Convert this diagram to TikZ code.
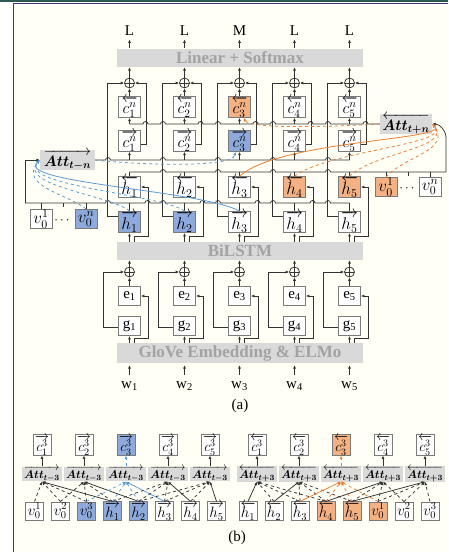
\RequirePackage{fix-cm}
\documentclass[tikz,border=0pt]{standalone}
\usepackage{amsmath}
\usepackage{bm}
\usepackage{fontspec}
\setmainfont{Liberation Serif}
\usetikzlibrary{arrows.meta,calc}

\definecolor{bandgray}{HTML}{D9D9D9}
\definecolor{bandtext}{HTML}{A3A3A3}
\definecolor{blueFill}{HTML}{8EA9DB}
\definecolor{orangeFill}{HTML}{F4B183}
\definecolor{blueLine}{HTML}{5B9BD5}
\definecolor{orangeLine}{HTML}{ED7D31}
\definecolor{paper}{HTML}{FFFFF6}
\definecolor{frameTeal}{HTML}{2E5A55}
\definecolor{frameNavy}{HTML}{3B3A7A}
\definecolor{ink}{HTML}{333333}
\definecolor{edge}{HTML}{7A7A7A}

\newcommand\sz[1]{\fontsize{#1}{#1}\selectfont}

\begin{document}
\begin{tikzpicture}[x=1pt,y=-1pt,
  line/.style={draw=ink,line width=0.75pt},
  arr/.style={line,-{Latex[length=3.4pt,width=3pt]}},
  cell/.style={draw=edge,line width=1pt,fill=white,minimum width=22pt,minimum height=19pt,inner sep=0pt,font=\sz{16}},
  bcell/.style={cell,minimum width=18pt,minimum height=18pt,font=\sz{15}},
  band/.style={fill=bandgray,text=bandtext,inner sep=0pt,minimum width=246pt,font=\bfseries\sz{17}},
  attbox/.style={fill=bandgray,inner sep=0pt,font=\sz{15}},
  battbox/.style={fill=bandgray,inner sep=0pt,minimum width=40pt,minimum height=14pt,font=\sz{11.5}},
  dots/.style={inner sep=0pt,font=\sz{13}},
  sumnode/.style={circle,draw=ink,line width=0.75pt,minimum size=10pt,inner sep=0pt,
    path picture={\draw[ink,line width=0.75pt] (path picture bounding box.north)--(path picture bounding box.south) (path picture bounding box.west)--(path picture bounding box.east);}},
]
\useasboundingbox (0,0) rectangle (448,552);
% page and frame
\fill[white] (0,0) rectangle (448,552);
\fill[paper] (13,3) rectangle (448,552);
\fill[frameTeal] (0,0) rectangle (448,2.4);
\draw[frameNavy,line width=1.3pt] (13.6,552) -- (13.6,3.3) -- (448,3.3);

% ---------------- (a) ----------------
\node[band,minimum height=18pt] (lin) at (240,58) {Linear + Softmax};
\node[band,minimum height=18pt] (bil) at (240,251) {BiLSTM};
\node[band,minimum height=20pt] (glv) at (240,353) {GloVe Embedding \& ELMo};

\node[attbox,minimum width=55pt,minimum height=18pt] (attL) at (67.5,160) {$\overrightarrow{\bm{Att}_{\bm{t-n}}}$};
\node[attbox,minimum width=52pt,minimum height=17pt] (attR) at (406,124) {$\overleftarrow{\bm{Att}_{\bm{t+n}}}$};

\coordinate (bb) at (0,172);
\coordinate (fb) at (0,203);

\foreach \i/\lab/\fcu/\fcd/\fhu/\fhd in {1/L/white/white/white/blueFill,2/L/white/white/white/blueFill,3/M/orangeFill/blueFill/white/white,4/L/white/white/orangeFill/white,5/L/white/white/orangeFill/white}{
  \pgfmathsetmacro\cx{129.5+55*(\i-1)}
  \node[font=\sz{15}] (lab\i) at (\cx,31) {\lab};
  \node[sumnode] (s\i) at (\cx,83) {};
  \node[cell,minimum height=19pt,fill=\fcu] (cu\i) at (\cx,107) {$\overleftarrow{c_{\i}^{n}}$};
  \node[cell,minimum height=18pt,fill=\fcd] (cd\i) at (\cx,141) {$\overrightarrow{c_{\i}^{n}}$};
  \node[cell,minimum height=20pt,fill=\fhu,font=\sz{17}] (hu\i) at (\cx,187) {$\overleftarrow{h_{\i}}$};
  \node[cell,minimum height=21pt,fill=\fhd,font=\sz{17}] (hd\i) at (\cx,222) {$\overrightarrow{h_{\i}}$};
  \node[sumnode] (se\i) at (\cx,272) {};
  \node[cell,font=\sz{15}] (e\i) at (\cx,296) {e\textsubscript{\i}};
  \node[cell,font=\sz{15}] (g\i) at (\cx,326) {g\textsubscript{\i}};
  \node[font=\sz{15}] (w\i) at (\cx,386) {w\textsubscript{\i}};
  % output head
  \draw[arr] ([yshift=1pt]lin.north -| s\i) -- (lab\i.south);
  \draw[arr] (s\i) -- (s\i |- lin.south);
  \draw[arr] (cu\i) -- (s\i);
  \draw[arr] ([yshift=6pt]hd\i.west) -- ++(-10.5,0) |- (s\i.west);
  \draw[arr] ([yshift=-3pt]cd\i.east) -- ++(5,0) |- (s\i.east);
  \draw[arr] (cu\i.south |- attR.west) -- (cu\i.south);
  \draw[arr] (cd\i.south |- attL.east) -- (cd\i.south);
  % BiLSTM states
  \draw[line] (hu\i.north) -- (hu\i.north |- bb);
  \draw[line] (hd\i.north) -- (hd\i.north |- fb);
  \draw[arr] (hd\i.south |- bil.north) -- (hd\i.south);
  \draw[arr] ([xshift=5pt]hd\i.south |- bil.north) -- ++(0,-5) -| ([xshift=7pt]hu\i.east) -- (hu\i.east);
  % embedding highway
  \draw[arr] (se\i) -- (se\i |- bil.south);
  \draw[arr] (e\i) -- (se\i);
  \draw[arr] ([yshift=-1pt]g\i.west) -- ++(-15,0) |- (se\i.west);
  \draw[arr] (g\i.south |- glv.north) -- (g\i.south);
  \draw[arr] ([xshift=5pt]g\i.south |- glv.north) -- ++(0,-4) -| ([xshift=7pt]e\i.east) -- (e\i.east);
  \draw[arr] ([yshift=3pt]w\i.north) -- ([yshift=-2pt]w\i.north |- glv.south);
}

% padding vectors
\node[cell,font=\sz{17}] (vl1) at (41,219) {$v_0^1$};
\node[dots] (vld) at (63,221) {$\cdots$};
\node[cell,fill=blueFill,font=\sz{17}] (vln) at (86,219) {$v_0^n$};
\node[cell,fill=orangeFill,font=\sz{17}] (vr1) at (386,187) {$v_0^1$};
\node[dots] (vrd) at (408,189) {$\cdots$};
\node[cell,font=\sz{17}] (vrn) at (430,187) {$v_0^n$};
\draw[line] (vl1.north) -- (vl1.north |- fb);
\draw[line] (vln.north) -- (vln.north |- fb);
\draw[line] (vr1.north) -- (vr1.north |- bb);
\draw[line] (vrn.north) -- (vrn.north |- bb);
\draw[line] (vld.north |- fb) -- ++(0,4);
\draw[line] (vrd.north |- bb) -- ++(0,4);

% attention output buses (with line jumps)
\draw[line] (cu1.south |- attR.west) \foreach \b in {145.5,163,200.5,218,255.5,273,310.5,328,365.5}{ -- (\b-2.5,124) arc[start angle=180,end angle=0,radius=2.5pt]} -- (attR.west);
\draw[line] (attL.east) \foreach \b in {108,163,218,273,328}{ -- (\b-2.5,160) arc[start angle=180,end angle=0,radius=2.5pt]} -- (cd5.south |- attL.east);
% backward collection bus
\coordinate (rc) at (446,172);
\draw[arr] (hu1.north |- bb) \foreach \b in {163,218,273,328}{ -- (\b-2.5,172) arc[start angle=180,end angle=0,radius=2.5pt]} -- (rc) -- ++(0,-34) to[out=90,in=0] (attR.east);
% forward collection bus
\coordinate (lc) at (25,203);
\draw[line] (lc) \foreach \b in {108,147.5,163,202.5,218,257.5,273,312.5,328}{ -- (\b-2.5,203) arc[start angle=180,end angle=0,radius=2.5pt]} -- (hd5.north |- fb);
\draw[arr] (lc) |- (attL.west);

% highlighted forward attention (blue)
\begin{scope}[-{Latex[length=3.6pt,width=3.2pt]},line width=0.8pt]
\draw[blueLine,dashed] (vln.north) .. controls (70,195) and (18,186) .. (attL.west);
\draw[blueLine,dashed] (hd1.north) .. controls (110,195) and (18,186) .. (attL.west);
\draw[blueLine,dashed] (hd2.north) .. controls (160,194) and (18,186) .. (attL.west);
\draw[blueLine] (hd3.north) .. controls (200,190) and (15,183) .. (attL.west);
\draw[blueLine,dashed] (attL.east) .. controls (140,165) and (232,168) .. ([xshift=-4pt]cd3.south);
% highlighted backward attention (orange)
\draw[orangeLine] (hu3.north) .. controls (280,140) and (452,140) .. (attR.east);
\draw[orangeLine,dashed] (hu4.north) .. controls (330,150) and (452,145) .. (attR.east);
\draw[orangeLine,dashed] (hu5.north) .. controls (375,152) and (452,148) .. (attR.east);
\draw[orangeLine,dashed] (vr1.north) .. controls (405,156) and (452,150) .. (attR.east);
\draw[orangeLine,dashed] (attR.west) .. controls (330,127) and (250,129) .. ([xshift=4pt]cu3.south);
\end{scope}

\node[font=\sz{15}] (capa) at (240,406) {(a)};

% ---------------- (b) ----------------
\foreach \k/\t/\f in {1/{$v_0^1$}/white,2/{$v_0^2$}/white,3/{$v_0^3$}/blueFill,4/{$\overrightarrow{h_1}$}/blueFill,5/{$\overrightarrow{h_2}$}/blueFill,6/{$\overrightarrow{h_3}$}/white,7/{$\overrightarrow{h_4}$}/white,8/{$\overrightarrow{h_5}$}/white}{
  \node[bcell,fill=\f] (bl\k) at ({34.5+26*(\k-1)},511) {\t};
}
\foreach \k/\t/\f in {1/{$\overleftarrow{h_1}$}/white,2/{$\overleftarrow{h_2}$}/white,3/{$\overleftarrow{h_3}$}/white,4/{$\overleftarrow{h_4}$}/orangeFill,5/{$\overleftarrow{h_5}$}/orangeFill,6/{$v_0^1$}/orangeFill,7/{$v_0^2$}/white,8/{$v_0^3$}/white}{
  \node[bcell,fill=\f] (br\k) at ({248+26*(\k-1)},511) {\t};
}
\foreach \i in {1,...,5}{
  \pgfmathsetmacro\ax{42+42*(\i-1)}
  \pgfmathsetmacro\bx{257+42*(\i-1)}
  \ifnum\i=3
    \def\lc{blueLine}\def\rc{orangeLine}\def\lf{blueFill}\def\rf{orangeFill}\def\os{dashed}
  \else
    \def\lc{ink}\def\rc{ink}\def\lf{white}\def\rf{white}\def\os{solid}
  \fi
  \node[battbox] (al\i) at (\ax,474) {$\overrightarrow{\bm{Att}_{\bm{t-3}}}$};
  \node[bcell,minimum height=20pt,fill=\lf,font=\sz{14}] (cl\i) at (\ax,445) {$\overrightarrow{c_{\i}^{3}}$};
  \node[battbox] (ar\i) at (\bx,474) {$\overleftarrow{\bm{Att}_{\bm{t+3}}}$};
  \node[bcell,minimum height=20pt,fill=\rf,font=\sz{14}] (cr\i) at (\bx,445) {$\overleftarrow{c_{\i}^{3}}$};
  \draw[arr,draw=\lc,\os] (al\i) -- (cl\i);
  \draw[arr,draw=\rc,\os] (ar\i) -- (cr\i);
  \pgfmathtruncatemacro\ql{\i+3}
  \draw[arr,draw=\lc] (bl\ql.north) -- (al\i.south);
  \draw[arr,draw=\rc] (br\i.north) -- (ar\i.south);
  \foreach \d in {0,1,2}{
    \pgfmathtruncatemacro\kl{\i+\d}
    \pgfmathtruncatemacro\kr{\i+\d+1}
    \draw[arr,draw=\lc,dashed] (bl\kl.north) -- (al\i.south);
    \draw[arr,draw=\rc,dashed] (br\kr.north) -- (ar\i.south);
  }
}
\node[font=\sz{15}] (capb) at (237,538) {(b)};
\end{tikzpicture}
\end{document}
